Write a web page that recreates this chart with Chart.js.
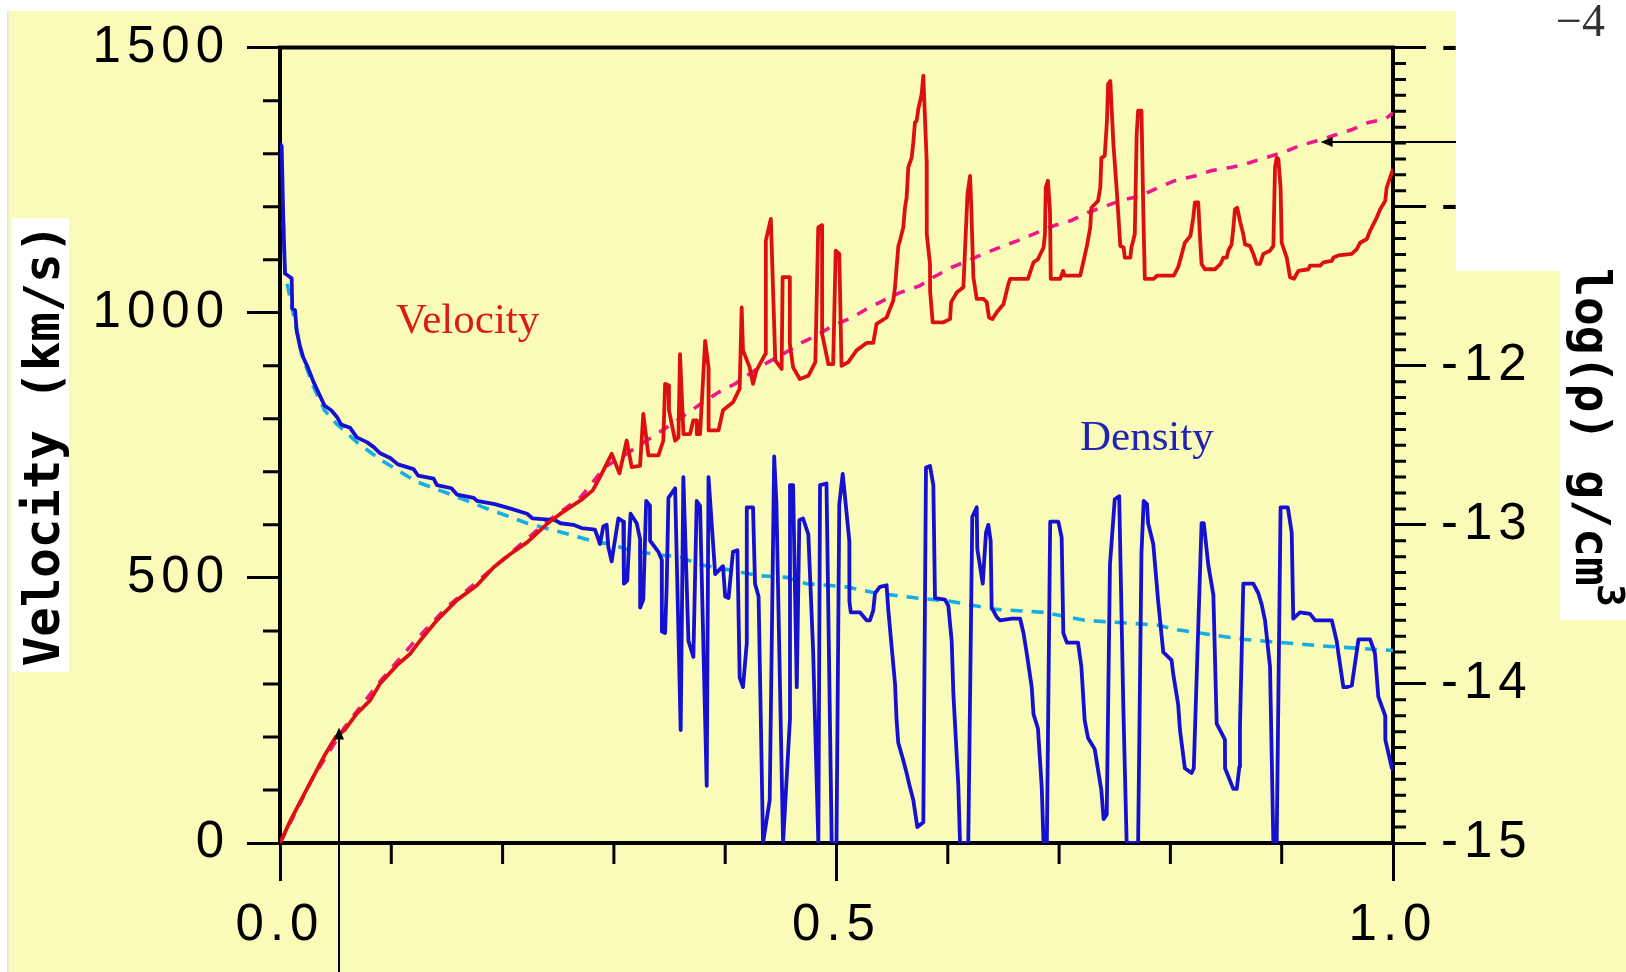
<!DOCTYPE html>
<html>
<head>
<meta charset="utf-8">
<title>Velocity and density profile</title>
<script src="https://cdn.jsdelivr.net/npm/chart.js@4.4.1/dist/chart.umd.min.js"></script>
<style>
  html, body { margin: 0; padding: 0; background: #fff; }
  canvas { display: block; }
</style>
</head>
<body>
<canvas id="profile" width="1626" height="972"></canvas>
<script>
// velocity in km/s, as [coordinate, value]
var velocityProfile = [
	[0, 0], [0.01, 45], [0.02, 85], [0.03, 125], [0.04, 165], [0.05, 200], [0.058, 213], [0.069, 244], [0.081, 269], [0.090, 301],
	[0.105, 335], [0.117, 357], [0.126, 382], [0.141, 420], [0.159, 458], [0.177, 486], [0.192, 520], [0.207, 545], [0.222, 567], [0.240, 602],
	[0.252, 621], [0.270, 646], [0.281, 665], [0.2875, 690], [0.298, 734], [0.305, 697], [0.3115, 759], [0.316, 709], [0.3235, 711], [0.3264, 809],
	[0.331, 731], [0.340, 731], [0.3444, 759], [0.346, 866], [0.349, 863], [0.3495, 816], [0.355, 759], [0.358, 765], [0.3594, 922], [0.3625, 771],
	[0.3684, 771], [0.3713, 797], [0.3744, 797], [0.3745, 771], [0.3774, 771], [0.382, 947], [0.385, 897], [0.3851, 778], [0.394, 778], [0.398, 816],
	[0.407, 831], [0.413, 857], [0.4148, 1010], [0.416, 929], [0.422, 897], [0.425, 866], [0.428, 891], [0.436, 922], [0.4365, 1136], [0.441, 1177],
	[0.445, 910], [0.4507, 894], [0.4516, 1067], [0.458, 1067], [0.4581, 941], [0.461, 897], [0.467, 875], [0.4747, 881], [0.481, 907], [0.4836, 1161],
	[0.487, 1165], [0.4871, 960], [0.4927, 903], [0.497, 903], [0.4993, 1117], [0.5025, 1111], [0.5045, 900], [0.5106, 907], [0.518, 929], [0.527, 943],
	[0.533, 943], [0.536, 979], [0.545, 991], [0.551, 1023], [0.5526, 1048], [0.554, 1086], [0.5556, 1126], [0.557, 1136], [0.560, 1161], [0.5615, 1198],
	[0.563, 1217], [0.5645, 1274], [0.5675, 1292], [0.569, 1321], [0.5705, 1359], [0.572, 1362], [0.5735, 1384], [0.5765, 1412], [0.578, 1447], [0.581, 1287],
	[0.5811, 1148], [0.584, 1092], [0.5841, 1041], [0.5864, 982], [0.596, 982], [0.602, 988], [0.603, 1020], [0.608, 1038], [0.614, 1048], [0.6177, 1224],
	[0.620, 1258], [0.621, 1205], [0.623, 1067], [0.626, 1026], [0.632, 1026], [0.635, 1020], [0.637, 991], [0.640, 988], [0.644, 1001], [0.650, 1016],
	[0.6544, 1054], [0.656, 1064], [0.672, 1064], [0.677, 1095], [0.681, 1101], [0.686, 1123], [0.6873, 1148], [0.688, 1236], [0.690, 1249], [0.6918, 1192],
	[0.6925, 1064], [0.701, 1064], [0.7036, 1079], [0.705, 1070], [0.719, 1070], [0.722, 1098], [0.725, 1126], [0.728, 1161], [0.729, 1198], [0.735, 1211],
	[0.737, 1236], [0.738, 1292], [0.741, 1296], [0.743, 1362], [0.744, 1431], [0.746, 1437], [0.7488, 1318], [0.752, 1224], [0.755, 1126], [0.758, 1123],
	[0.759, 1104], [0.764, 1104], [0.765, 1123], [0.768, 1148], [0.7697, 1336], [0.771, 1381], [0.774, 1381], [0.7757, 1186], [0.777, 1064], [0.785, 1064],
	[0.788, 1070], [0.803, 1070], [0.807, 1086], [0.813, 1132], [0.818, 1145], [0.8206, 1180], [0.822, 1208], [0.825, 1208], [0.8266, 1142], [0.828, 1092],
	[0.831, 1082], [0.840, 1082], [0.845, 1092], [0.8476, 1104], [0.8506, 1104], [0.852, 1117], [0.855, 1129], [0.8566, 1161], [0.858, 1195], [0.860, 1198],
	[0.8625, 1173], [0.8655, 1148], [0.867, 1129], [0.8715, 1126], [0.8745, 1111], [0.8775, 1092], [0.8805, 1092], [0.8835, 1111], [0.8895, 1117], [0.8925, 1126],
	[0.894, 1274], [0.8955, 1292], [0.897, 1290], [0.899, 1236], [0.900, 1132], [0.9045, 1104], [0.9075, 1067], [0.911, 1064], [0.915, 1079], [0.924, 1082],
	[0.9255, 1089], [0.9345, 1089], [0.9375, 1095], [0.945, 1098], [0.9465, 1104], [0.951, 1108], [0.963, 1111], [0.9675, 1120], [0.9705, 1132], [0.9765, 1139],
	[0.9795, 1155], [0.9855, 1180], [0.9885, 1195], [0.993, 1211], [0.9943, 1236], [1.0, 1271]
];

// smoothed velocity (dashed)
var velocitySmooth = [
	[0, 0], [0.03, 125], [0.058, 218], [0.09, 305], [0.12, 378], [0.15, 445], [0.18, 498], [0.21, 552], [0.24, 606], [0.27, 652],
	[0.292, 709], [0.3115, 734], [0.325, 753], [0.338, 771], [0.352, 790], [0.367, 812], [0.380, 831], [0.394, 850], [0.409, 866], [0.422, 885],
	[0.437, 905], [0.452, 922], [0.466, 941], [0.482, 957], [0.497, 976], [0.514, 991], [0.527, 1007], [0.542, 1023], [0.557, 1038], [0.575, 1051],
	[0.587, 1067], [0.603, 1085], [0.618, 1098], [0.633, 1112], [0.650, 1126], [0.663, 1136], [0.680, 1151], [0.695, 1164], [0.711, 1174], [0.726, 1189],
	[0.743, 1202], [0.756, 1212], [0.773, 1220], [0.789, 1236], [0.804, 1249], [0.822, 1258], [0.837, 1268], [0.854, 1274], [0.867, 1280], [0.883, 1291],
	[0.901, 1302], [0.916, 1315], [0.931, 1324], [0.948, 1335], [0.964, 1346], [0.978, 1359], [0.993, 1365], [1.0, 1377]
];

// log10 density in g/cm^3, as [coordinate, value]
var densityProfile = [
	[0, -10.60], [0.0015, -10.62], [0.003, -11.09], [0.0045, -11.42], [0.0105, -11.45], [0.011, -11.64], [0.0135, -11.65], [0.015, -11.78], [0.018, -11.88], [0.021, -11.95],
	[0.025, -12.01], [0.030, -12.10], [0.034, -12.16], [0.040, -12.25], [0.046, -12.28], [0.051, -12.32], [0.055, -12.37], [0.063, -12.39], [0.069, -12.45], [0.078, -12.48],
	[0.084, -12.51], [0.090, -12.55], [0.099, -12.58], [0.106, -12.62], [0.120, -12.65], [0.124, -12.69], [0.138, -12.71], [0.141, -12.75], [0.154, -12.77], [0.159, -12.81],
	[0.174, -12.83], [0.177, -12.85], [0.193, -12.87], [0.208, -12.90], [0.222, -12.93], [0.227, -12.96], [0.247, -12.97], [0.252, -12.99], [0.2635, -13.00], [0.271, -13.02],
	[0.283, -13.03], [0.2875, -13.12], [0.2905, -13.01], [0.2935, -13.00], [0.295, -13.14], [0.298, -13.23], [0.2995, -13.16], [0.304, -12.96], [0.3085, -12.98], [0.309, -13.37],
	[0.312, -13.35], [0.315, -12.93], [0.3205, -12.99], [0.3235, -13.09], [0.3236, -13.52], [0.3264, -13.47], [0.329, -12.85], [0.3324, -12.88], [0.3325, -13.10], [0.340, -13.17],
	[0.343, -13.22], [0.3431, -13.67], [0.346, -13.68], [0.3474, -13.39], [0.349, -12.83], [0.355, -12.77], [0.360, -14.29], [0.3624, -12.70], [0.367, -13.73], [0.3714, -13.83],
	[0.3744, -12.85], [0.3774, -12.88], [0.3834, -14.64], [0.385, -12.70], [0.391, -13.31], [0.398, -13.26], [0.400, -13.45], [0.403, -13.46], [0.407, -13.17], [0.411, -13.16],
	[0.413, -13.96], [0.416, -14.02], [0.4193, -13.75], [0.4194, -12.89], [0.425, -12.89], [0.4268, -13.37], [0.430, -13.45], [0.434, -15.0], [0.440, -14.73], [0.444, -12.57],
	[0.446, -12.86], [0.452, -15.0], [0.4581, -14.23], [0.4582, -12.75], [0.461, -12.75], [0.4643, -14.02], [0.4666, -12.97], [0.470, -12.96], [0.4747, -13.06], [0.479, -13.79],
	[0.4837, -15.0], [0.4852, -12.75], [0.491, -12.74], [0.4957, -15.0], [0.500, -15.0], [0.5025, -12.87], [0.5056, -12.68], [0.5115, -13.10], [0.5116, -13.48], [0.5128, -13.55],
	[0.521, -13.55], [0.527, -13.60], [0.530, -13.60], [0.533, -13.54], [0.5346, -13.43], [0.539, -13.39], [0.545, -13.38], [0.5466, -13.54], [0.5496, -13.77], [0.5526, -14.00],
	[0.554, -14.23], [0.5555, -14.37], [0.560, -14.48], [0.563, -14.56], [0.566, -14.65], [0.569, -14.73], [0.5726, -14.90], [0.578, -14.87], [0.5804, -12.64], [0.584, -12.63],
	[0.587, -12.75], [0.5885, -13.46], [0.5975, -13.47], [0.6005, -13.51], [0.6035, -13.73], [0.605, -14.06], [0.6094, -14.63], [0.611, -15.0], [0.6184, -15.0], [0.622, -12.95],
	[0.626, -12.89], [0.6265, -13.15], [0.6314, -13.37], [0.6343, -13.05], [0.6364, -13.00], [0.6385, -13.10], [0.6394, -13.52], [0.644, -13.58], [0.647, -13.60], [0.6574, -13.59],
	[0.665, -13.59], [0.668, -13.68], [0.671, -13.81], [0.6754, -14.02], [0.677, -14.19], [0.681, -14.28], [0.6844, -14.65], [0.686, -15.0], [0.689, -15.0], [0.692, -12.98],
	[0.6993, -12.98], [0.7023, -13.08], [0.7038, -13.68], [0.707, -13.74], [0.717, -13.74], [0.720, -13.89], [0.723, -14.23], [0.726, -14.34], [0.732, -14.41], [0.735, -14.54],
	[0.738, -14.67], [0.740, -14.85], [0.7428, -14.82], [0.7457, -13.25], [0.750, -12.84], [0.754, -12.82], [0.7577, -14.14], [0.7607, -15.0], [0.771, -15.0], [0.774, -13.18],
	[0.776, -12.85], [0.779, -12.87], [0.780, -12.99], [0.7846, -13.12], [0.789, -13.48], [0.7936, -13.80], [0.801, -13.85], [0.8026, -13.94], [0.807, -14.13], [0.8086, -14.29],
	[0.813, -14.53], [0.819, -14.56], [0.821, -14.53], [0.828, -12.99], [0.830, -12.99], [0.834, -13.25], [0.8386, -13.44], [0.8416, -14.25], [0.846, -14.31], [0.849, -14.35],
	[0.8491, -14.53], [0.8565, -14.66], [0.8596, -14.66], [0.862, -14.52], [0.8625, -14.27], [0.8655, -13.37], [0.8745, -13.37], [0.879, -13.43], [0.882, -13.50], [0.885, -13.60],
	[0.8895, -13.89], [0.8925, -15.0], [0.8955, -15.0], [0.899, -12.89], [0.9055, -12.89], [0.909, -13.05], [0.9104, -13.59], [0.9164, -13.55], [0.9254, -13.56], [0.930, -13.60],
	[0.945, -13.60], [0.9494, -13.73], [0.951, -13.81], [0.9554, -14.02], [0.9584, -14.02], [0.963, -14.01], [0.969, -13.72], [0.9794, -13.72], [0.982, -13.77], [0.9838, -13.81],
	[0.9868, -14.08], [0.993, -14.20], [0.9931, -14.35], [0.999, -14.53], [1.0, -14.53]
];

// smoothed density (dashed)
var densitySmooth = [
	[0.003, -11.09], [0.0045, -11.42], [0.011, -11.64], [0.0195, -11.93], [0.03, -12.13], [0.04, -12.28], [0.05, -12.36], [0.069, -12.48], [0.09, -12.59], [0.123, -12.73],
	[0.15, -12.80], [0.183, -12.89], [0.222, -12.99], [0.26, -13.06], [0.285, -13.11], [0.2965, -13.12], [0.3145, -13.16], [0.341, -13.19], [0.359, -13.20], [0.377, -13.25],
	[0.401, -13.28], [0.431, -13.32], [0.455, -13.33], [0.473, -13.37], [0.509, -13.39], [0.536, -13.43], [0.572, -13.46], [0.602, -13.48], [0.641, -13.53], [0.686, -13.55],
	[0.723, -13.60], [0.788, -13.63], [0.806, -13.66], [0.8655, -13.72], [0.934, -13.76], [1.0, -13.79]
];

var xTickLabels = ['0.0', '0.5', '1.0'];
var velocityTicks = [0, 500, 1000, 1500];
var densityTicks = [-15, -14, -13, -12, -11, -10];

// pointers: one up from below onto the velocity curve, one in from the right
var pointerLow = { x: 0.053, v: 218 };
var pointerHigh = { x: 0.935, v: 1322 };

var tickFont = { family: "'Liberation Sans', Arial, sans-serif", size: 51 };

function toPoints(pairs) {
	return pairs.map(function (p) { return { x: p[0], y: p[1] }; });
}

var paperPlugin = {
	id: 'paper',
	beforeDraw: function (chart) {
		var ctx = chart.ctx;
		ctx.save();
		ctx.fillStyle = '#fafab9';
		ctx.fillRect(0, 0, chart.width, chart.height);
		ctx.fillStyle = '#fff';
		ctx.fillRect(0, 0, chart.width, 11);
		ctx.fillRect(0, 0, 7, chart.height);
		ctx.fillStyle = '#d4e8f8';
		ctx.fillRect(7, 11, 1.5, chart.height - 11);
		ctx.restore();
		// wide spacing for the tick numbers
		ctx.letterSpacing = '6px';
	}
};

function arrowHead(ctx, x, y, dx, dy) {
	// filled triangle with its tip at (x, y), pointing along (dx, dy)
	var len = 12, half = 5;
	ctx.beginPath();
	ctx.moveTo(x, y);
	ctx.lineTo(x - dx * len - dy * half, y - dy * len + dx * half);
	ctx.lineTo(x - dx * len + dy * half, y - dy * len - dx * half);
	ctx.closePath();
	ctx.fill();
}

var overlayPlugin = {
	id: 'overlay',
	afterDraw: function (chart) {
		var ctx = chart.ctx;
		var area = chart.chartArea;
		var sx = chart.scales.x, sy = chart.scales.y, sr = chart.scales.y2;
		var i, p;

		ctx.save();
		ctx.letterSpacing = '0px';
		ctx.strokeStyle = '#000';
		ctx.lineCap = 'butt';

		// top frame
		ctx.lineWidth = 4;
		ctx.beginPath();
		ctx.moveTo(area.left - 2, area.top);
		ctx.lineTo(area.right + 2, area.top);
		ctx.stroke();

		// minor ticks
		ctx.lineWidth = 3;
		ctx.beginPath();
		for (i = 1; i < 10; i++) {
			if (i === 5) continue;
			p = sx.getPixelForValue(i / 10);
			ctx.moveTo(p, area.bottom);
			ctx.lineTo(p, area.bottom + 21);
		}
		for (i = 1; i < 15; i++) {
			if (i % 5 === 0) continue;
			p = sy.getPixelForValue(i * 100);
			ctx.moveTo(area.left, p);
			ctx.lineTo(area.left - 17, p);
		}
		for (i = 1; i < 50; i++) {
			if (i % 10 === 0) continue;
			p = sr.getPixelForValue(-15 + i / 10);
			ctx.moveTo(area.right, p);
			ctx.lineTo(area.right + 13, p);
		}
		ctx.stroke();

		// white panels
		ctx.fillStyle = '#fff';
		ctx.fillRect(1456, 0, chart.width - 1456, 271);
		ctx.fillRect(1560, 271, chart.width - 1560, 349);
		ctx.fillRect(12, 218, 57, 454);

		// pointers
		ctx.fillStyle = '#000';
		ctx.lineWidth = 2;
		var ax = sx.getPixelForValue(pointerLow.x);
		var ay = sy.getPixelForValue(pointerLow.v);
		ctx.beginPath();
		ctx.moveTo(ax, chart.height);
		ctx.lineTo(ax, ay + 8);
		ctx.stroke();
		arrowHead(ctx, ax, ay, 0, -1);

		var bx = sx.getPixelForValue(pointerHigh.x);
		var by = sy.getPixelForValue(pointerHigh.v);
		ctx.beginPath();
		ctx.moveTo(1456, by);
		ctx.lineTo(bx + 8, by);
		ctx.stroke();
		arrowHead(ctx, bx, by, -1, 0);

		// curve labels
		ctx.textAlign = 'left';
		ctx.textBaseline = 'alphabetic';
		ctx.font = "43px 'Liberation Serif', 'Times New Roman', serif";
		ctx.fillStyle = '#d81e10';
		ctx.fillText('Velocity', 396, 333);
		ctx.fillStyle = '#2024b0';
		ctx.fillText('Density', 1080, 450);

		ctx.font = "46px 'Liberation Serif', 'Times New Roman', serif";
		ctx.fillStyle = '#333';
		ctx.fillText('\u22124', 1556, 36);

		// axis titles
		ctx.fillStyle = '#000';
		ctx.font = "bold 49px 'DejaVu Sans Mono', monospace";
		ctx.save();
		ctx.translate(59, 445);
		ctx.rotate(-Math.PI / 2);
		ctx.textAlign = 'center';
		ctx.fillText('Velocity (km/s)', 0, 0);
		ctx.restore();

		ctx.save();
		ctx.translate(1576, 268);
		ctx.rotate(Math.PI / 2);
		ctx.textAlign = 'left';
		ctx.font = "bold 48px 'DejaVu Sans Mono', monospace";
		var main = 'log(\u03c1) g/cm';
		ctx.fillText(main, 0, 0);
		var w = ctx.measureText(main).width;
		ctx.font = "bold 38px 'DejaVu Sans Mono', monospace";
		ctx.fillText('3', w - 2, -22);
		ctx.restore();

		ctx.restore();
	}
};

var ctx = document.getElementById('profile').getContext('2d');

window.profileChart = new Chart(ctx, {
	type: 'line',
	data: {
		datasets: [{
			label: 'Velocity',
			data: toPoints(velocityProfile),
			yAxisID: 'y',
			borderColor: '#dc1010',
			borderWidth: 3.8,
			borderJoinStyle: 'round',
			pointRadius: 0,
			tension: 0
		}, {
			label: 'Density',
			data: toPoints(densityProfile),
			yAxisID: 'y2',
			borderColor: '#1510d2',
			borderWidth: 3.8,
			borderJoinStyle: 'round',
			pointRadius: 0,
			tension: 0
		}, {
			label: 'Velocity (smoothed)',
			data: toPoints(velocitySmooth),
			yAxisID: 'y',
			borderColor: '#f0168c',
			borderWidth: 3.6,
			borderDash: [11, 10],
			pointRadius: 0,
			tension: 0
		}, {
			label: 'Density (smoothed)',
			data: toPoints(densitySmooth),
			yAxisID: 'y2',
			borderColor: '#14aee6',
			borderWidth: 3.6,
			borderDash: [12, 9],
			pointRadius: 0,
			tension: 0
		}]
	},
	options: {
		responsive: false,
		animation: false,
		devicePixelRatio: 1,
		layout: {
			padding: { top: 47, left: 0, right: 0, bottom: 0 }
		},
		scales: {
			x: {
				type: 'linear',
				position: 'bottom',
				min: 0,
				max: 1,
				afterFit: function (scale) { scale.height = 129; },
				afterBuildTicks: function (scale) {
					scale.ticks = xTickLabels.map(function (t) { return { value: parseFloat(t) }; });
				},
				ticks: {
					font: tickFont,
					color: '#000',
					padding: 14,
					maxRotation: 0,
					callback: function (value) { return value.toFixed(1); }
				},
				grid: { drawOnChartArea: false, tickLength: 38, lineWidth: 3, color: '#000' },
				border: { display: true, width: 4, color: '#000' }
			},
			y: {
				type: 'linear',
				position: 'left',
				min: 0,
				max: 1500,
				afterFit: function (scale) { scale.width = 280; },
				afterBuildTicks: function (scale) {
					scale.ticks = velocityTicks.map(function (v) { return { value: v }; });
				},
				ticks: {
					font: tickFont,
					color: '#000',
					padding: 17,
					callback: function (value) { return String(value); }
				},
				grid: { drawOnChartArea: false, tickLength: 33, lineWidth: 3, color: '#000' },
				border: { display: true, width: 4, color: '#000' }
			},
			y2: {
				type: 'linear',
				position: 'right',
				min: -15,
				max: -10,
				afterFit: function (scale) { scale.width = 233; },
				afterBuildTicks: function (scale) {
					scale.ticks = densityTicks.map(function (v) { return { value: v }; });
				},
				ticks: {
					font: tickFont,
					color: '#000',
					padding: 15,
					callback: function (value) { return String(value); }
				},
				grid: { drawOnChartArea: false, tickLength: 33, lineWidth: 3, color: '#000' },
				border: { display: true, width: 4, color: '#000' }
			}
		},
		plugins: {
			legend: { display: false },
			tooltip: { enabled: false }
		}
	},
	plugins: [paperPlugin, overlayPlugin]
});
</script>
</body>
</html>
